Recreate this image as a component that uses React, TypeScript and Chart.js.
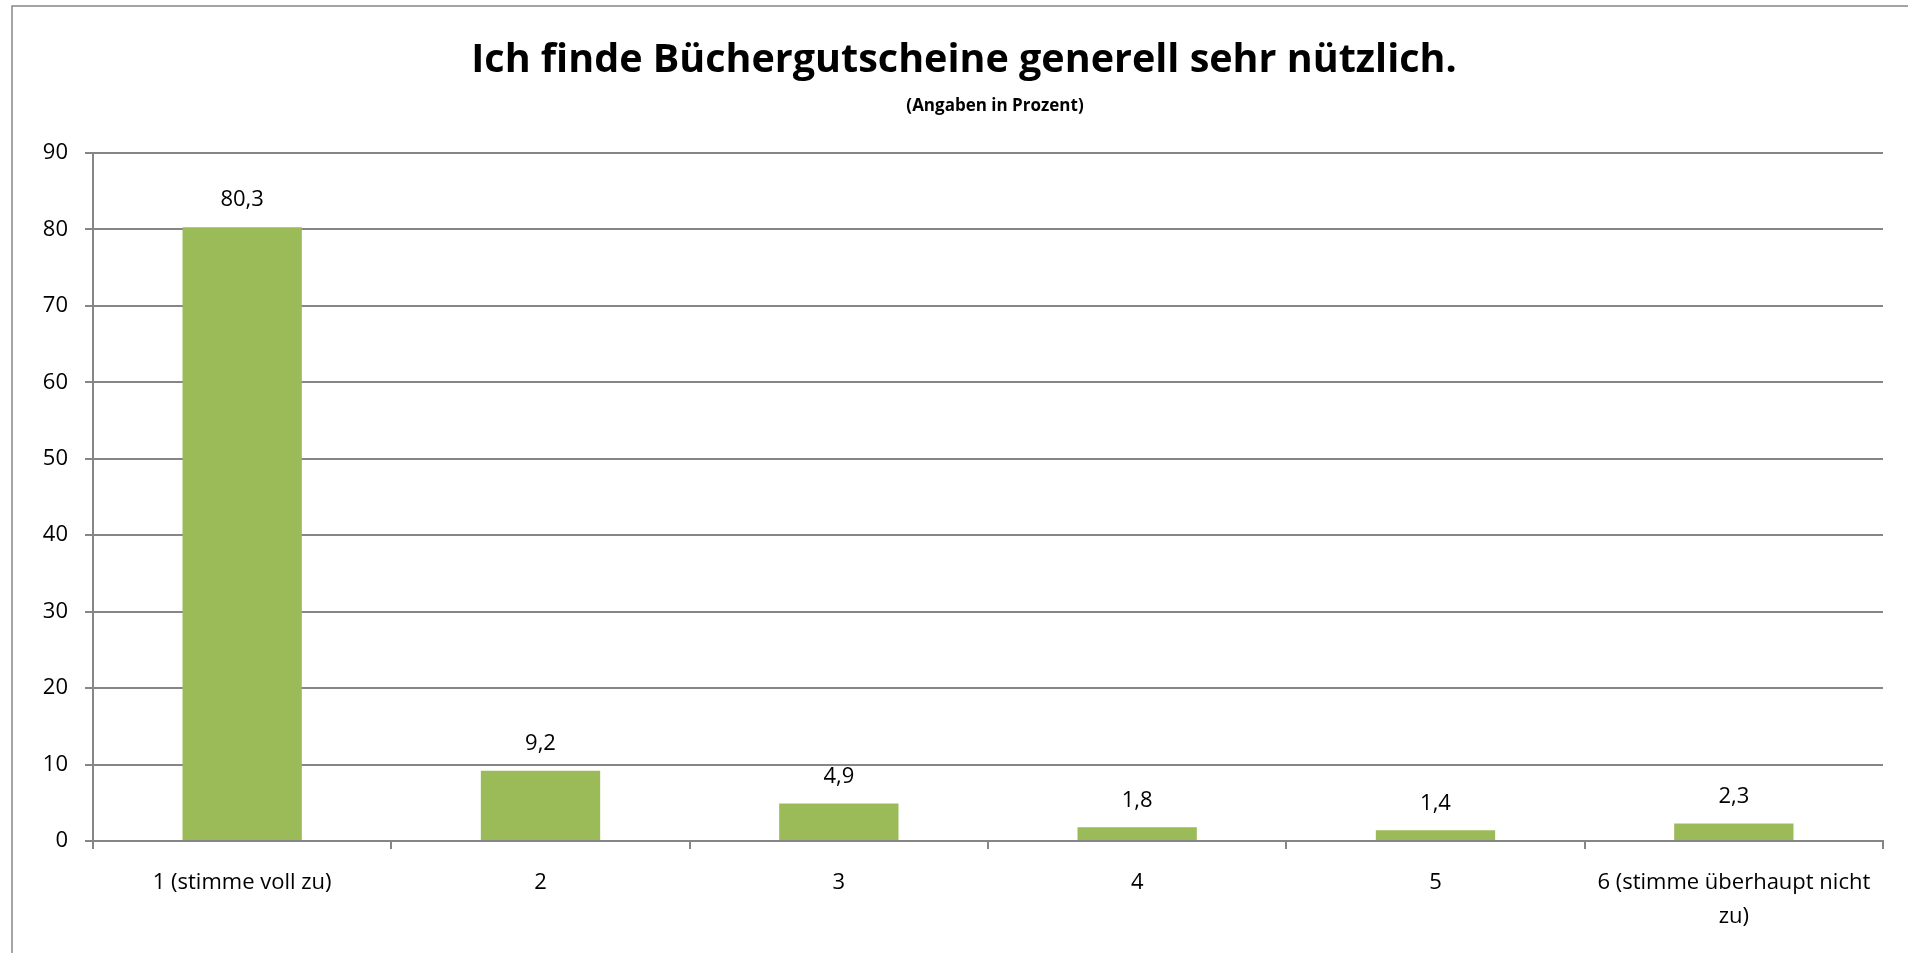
import React, { useEffect, useRef } from "react";
import { Chart, registerables } from "chart.js";

Chart.register(...registerables);

const categories: (string | string[])[] = [
  "1 (stimme voll zu)",
  "2",
  "3",
  "4",
  "5",
  ["6 (stimme überhaupt nicht", "zu)"],
];
const values: number[] = [80.3, 9.2, 4.9, 1.8, 1.4, 2.3];
const titleText = "Ich finde Büchergutscheine generell sehr nützlich.";
const subtitleText = "(Angaben in Prozent)";
const yMin = 0;
const yMax = 90;
const yStep = 10;

const FONT = "'Open Sans', 'Noto Sans', sans-serif";
const GRID = "#868686";
const BAR = "#9BBB59";

const frameBorder = {
  id: "frameBorder",
  afterDraw(chart: any) {
    const ctx = chart.ctx;
    ctx.save();
    ctx.strokeStyle = GRID;
    ctx.lineWidth = 1.5;
    ctx.beginPath();
    ctx.moveTo(12, chart.height + 5);
    ctx.lineTo(12, 6);
    ctx.lineTo(chart.width + 5, 6);
    ctx.stroke();
    ctx.restore();
  },
};

const headings = {
  id: "headings",
  afterDraw(chart: any) {
    const ctx = chart.ctx;
    ctx.save();
    ctx.fillStyle = "#000";
    ctx.textAlign = "center";
    ctx.textBaseline = "alphabetic";
    ctx.font = `bold 39.5px ${FONT}`;
    ctx.fillText(titleText, 964, 72);
    ctx.font = `bold 17px ${FONT}`;
    ctx.fillText(subtitleText, 995, 111);
    ctx.restore();
  },
};

const valueLabels = {
  id: "valueLabels",
  afterDatasetsDraw(chart: any) {
    const ctx = chart.ctx;
    ctx.save();
    ctx.font = `22px ${FONT}`;
    ctx.fillStyle = "#000";
    ctx.textAlign = "center";
    ctx.textBaseline = "middle";
    const meta = chart.getDatasetMeta(0);
    meta.data.forEach((bar: any, i: number) => {
      const v = chart.data.datasets[0].data[i] as number;
      ctx.fillText(String(v).replace(".", ","), bar.x, bar.y - 27);
    });
    ctx.restore();
  },
};

export default function App() {
  const ref = useRef<HTMLCanvasElement>(null);
  useEffect(() => {
    document.body.style.margin = "0";
    document.body.style.overflow = "hidden";
    const chart = new Chart(ref.current!, {
      type: "bar",
      data: {
        labels: categories,
        datasets: [
          {
            data: values,
            backgroundColor: BAR,
            borderWidth: 0,
            categoryPercentage: 1,
            barPercentage: 0.4,
          },
        ],
      },
      options: {
        responsive: false,
        animation: false,
        layout: { padding: { left: 0, right: 25, top: 153, bottom: 0 } },
        plugins: {
          legend: { display: false },
          tooltip: { enabled: false },
          title: { display: false },
        },
        scales: {
          x: {
            grid: {
              display: true,
              drawOnChartArea: false,
              drawTicks: true,
              tickLength: 8,
              color: GRID,
              lineWidth: 2,
            },
            border: { display: true, color: GRID, width: 2 },
            ticks: {
              color: "#000",
              font: { family: FONT, size: 22, lineHeight: 1.55 },
              padding: 17,
              maxRotation: 0,
              autoSkip: false,
            },
            afterFit(scale: any) {
              scale.height = 112;
            },
          },
          y: {
            min: yMin,
            max: yMax,
            grid: {
              color: GRID,
              lineWidth: 2,
              drawTicks: true,
              tickLength: 8,
            },
            border: { display: true, color: GRID, width: 2 },
            ticks: {
              stepSize: yStep,
              color: "#000",
              font: { family: FONT, size: 22 },
              padding: 17,
            },
            afterFit(scale: any) {
              scale.width = 93;
            },
          },
        },
      },
      plugins: [frameBorder, headings, valueLabels],
    });
    return () => chart.destroy();
  }, []);
  return (
    <div style={{ position: "fixed", left: 0, top: 0, width: 1908, height: 953, background: "#fff" }}>
      <canvas ref={ref} width={1908} height={953} style={{ width: 1908, height: 953, display: "block" }} />
    </div>
  );
}
